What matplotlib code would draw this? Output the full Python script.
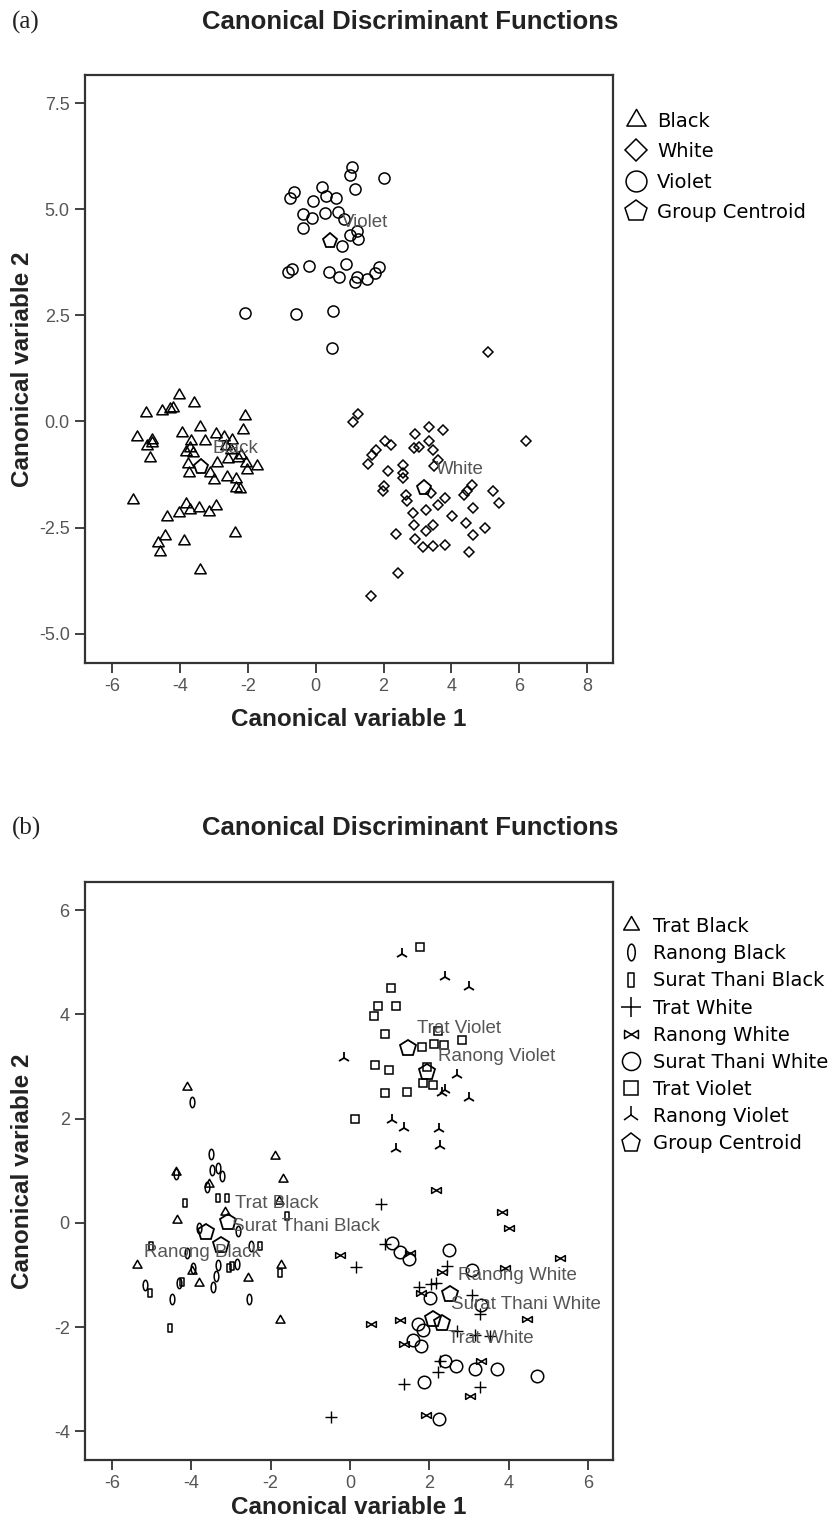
import numpy as np
import matplotlib.pyplot as plt
from matplotlib.path import Path
from matplotlib.lines import Line2D
from matplotlib.ticker import FormatStrFormatter
import matplotlib.transforms as mtrans

plt.rcParams['font.family'] = 'Liberation Sans'
plt.rcParams['axes.unicode_minus'] = False

# ---------------- panel (a) : colour groups ----------------
black_x = [-4.03, -3.60, -5.01, -4.53, -4.31, -4.21, -2.09, -2.15, -3.42, -3.94, -5.27, -4.82,
           -4.84, -4.98, -4.89, -3.67, -3.72, -3.84, -3.62, -3.26, -2.93, -2.70, -2.48, -2.65,
           -2.50, -2.20, -2.30, -2.60, -2.91, -3.77, -3.74, -3.13, -3.01, -2.62, -2.35, -2.35,
           -2.25, -2.07, -2.04, -1.73, -5.40, -3.82, -3.72, -3.44, -3.16, -2.93, -4.03, -4.39,
           -4.46, -4.66, -4.59, -3.89, -2.38, -3.42]
black_y = [0.63, 0.43, 0.20, 0.24, 0.29, 0.31, 0.13, -0.20, -0.12, -0.27, -0.37, -0.43,
           -0.51, -0.59, -0.86, -0.47, -0.63, -0.71, -0.75, -0.47, -0.29, -0.37, -0.43, -0.59,
           -0.67, -0.78, -0.86, -0.89, -0.98, -1.00, -1.22, -1.22, -1.37, -1.30, -1.36, -1.57,
           -1.59, -0.98, -1.14, -1.04, -1.84, -1.94, -2.08, -2.04, -2.14, -2.00, -2.16, -2.24,
           -2.69, -2.87, -3.08, -2.81, -2.63, -3.51]

white_x = [1.26, 1.09, 6.19, 2.05, 2.23, 1.79, 1.65, 1.55, 2.12, 2.58, 2.56, 2.58, 2.94, 3.34,
           3.75, 3.34, 2.89, 3.04, 3.45, 3.60, 3.50, 2.02, 1.97, 2.66, 2.70, 3.40, 3.82, 3.60,
           3.24, 2.87, 4.03, 4.36, 4.46, 4.62, 4.64, 5.23, 5.41, 4.43, 5.00, 4.64, 3.45, 3.24,
           2.91, 2.36, 2.94, 3.17, 3.45, 3.80, 4.51, 2.42, 1.63, 5.07]
white_y = [0.18, -0.02, -0.46, -0.46, -0.55, -0.67, -0.78, -1.00, -1.16, -1.02, -1.22, -1.33,
           -0.29, -0.12, -0.21, -0.47, -0.63, -0.60, -0.68, -0.90, -1.06, -1.53, -1.65, -1.73,
           -1.88, -1.69, -1.81, -1.96, -2.08, -2.16, -2.22, -1.73, -1.63, -1.49, -2.03, -1.65,
           -1.91, -2.39, -2.51, -2.67, -2.43, -2.57, -2.43, -2.65, -2.77, -2.96, -2.94, -2.90,
           -3.08, -3.57, -4.12, 1.63]

violet_x = [1.06, 1.02, 2.01, 1.16, -0.65, -0.75, 0.17, 0.29, 0.61, -0.09, -0.39, -0.11, 0.28,
            0.67, 0.83, -0.39, 1.21, 1.01, 1.26, 0.77, -0.82, -0.69, -0.21, 0.38, 0.69, 0.88,
            1.16, 1.22, 1.50, 1.75, 1.87, -2.09, -0.57, 0.51, 0.49]
violet_y = [6.00, 5.80, 5.74, 5.48, 5.41, 5.27, 5.53, 5.31, 5.27, 5.20, 4.88, 4.80, 4.91, 4.94,
            4.77, 4.55, 4.49, 4.38, 4.30, 4.14, 3.52, 3.58, 3.67, 3.53, 3.40, 3.71, 3.28, 3.40,
            3.36, 3.50, 3.63, 2.56, 2.54, 2.60, 1.74]

cent_a_names = ['Black', 'White', 'Violet']
cent_a_x = [-3.40, 3.19, 0.43]
cent_a_y = [-1.08, -1.57, 4.24]

# ---------------- panel (b) : province x colour groups ----------------
tb_x = [-4.12, -1.89, -1.69, -4.36, -3.16, -1.78, -5.36, -3.80, -2.58, -1.74, -1.76, -3.99, -4.38, -3.56]
tb_y = [2.61, 1.29, 0.84, 0.06, 0.21, 0.41, -0.81, -1.15, -1.06, -0.81, -1.87, -0.92, 0.98, 0.74]

rb_x = [-3.51, -3.47, -3.32, -3.23, -4.38, -3.60, -3.80, -2.82, -2.84, -3.32, -3.39, -3.45,
        -3.97, -4.32, -5.18, -4.49, -2.54, -4.12, -2.50, -3.99]
rb_y = [1.32, 1.01, 1.06, 0.90, 0.93, 0.69, -0.10, -0.15, -0.79, -0.81, -1.02, -1.23,
        -0.86, -1.15, -1.20, -1.47, -1.47, -0.58, -0.44, 2.32]

sb_x = [-4.16, -3.32, -3.10, -1.59, -5.01, -5.05, -4.23, -3.06, -2.97, -2.28, -1.76, -4.53]
sb_y = [0.39, 0.48, 0.48, 0.13, -0.44, -1.35, -1.14, -0.86, -0.83, -0.44, -0.97, -2.02]

tw_x = [0.77, 0.15, 0.88, 2.44, 1.75, 2.05, 2.18, 3.08, 3.27, 2.70, 3.14, 3.53, 2.27, 2.23, 1.36, 3.27, -0.48]
tw_y = [0.37, -0.85, -0.41, -0.83, -1.23, -1.18, -1.15, -1.39, -1.74, -2.08, -2.15, -2.18, -2.66, -2.86, -3.10, -3.15, -3.72]

rw_x = [2.18, 3.83, 4.00, -0.24, 1.52, 5.30, 3.92, 2.31, 1.78, 4.46, 1.26, 0.54, 1.36, 3.31, 3.02, 1.92]
rw_y = [0.63, 0.21, -0.10, -0.61, -0.57, -0.68, -0.87, -0.95, -1.34, -1.85, -1.87, -1.95, -2.32, -2.65, -3.33, -3.68]

sw_x = [1.06, 1.27, 1.49, 2.50, 3.08, 2.01, 3.31, 1.71, 1.84, 1.60, 1.78, 2.40, 2.66, 3.16, 3.70, 4.71, 1.86, 2.25]
sw_y = [-0.39, -0.55, -0.70, -0.52, -0.90, -1.44, -1.57, -1.95, -2.05, -2.25, -2.36, -2.66, -2.75, -2.80, -2.80, -2.94, -3.05, -3.76]

tv_x = [1.76, 1.04, 0.71, 1.15, 0.60, 0.88, 2.83, 1.81, 2.12, 2.36, 2.23, 0.62, 0.98, 1.95, 1.84, 2.10, 0.88, 1.43, 0.12]
tv_y = [5.30, 4.51, 4.17, 4.17, 3.96, 3.62, 3.50, 3.38, 3.44, 3.42, 3.68, 3.02, 2.93, 3.00, 2.68, 2.65, 2.50, 2.52, 2.00]

rv_x = [1.32, 2.40, 2.99, -0.16, 2.71, 2.31, 2.40, 2.99, 1.06, 1.36, 2.25, 1.17, 2.27]
rv_y = [5.16, 4.71, 4.52, 3.17, 2.83, 2.49, 2.55, 2.39, 1.97, 1.82, 1.81, 1.42, 1.47]

cent_b_names = ['Trat Black', 'Ranong Black', 'Surat Thani Black', 'Trat White', 'Ranong White',
                'Surat Thani White', 'Trat Violet', 'Ranong Violet']
cent_b_x = [-3.08, -3.62, -3.25, 2.10, 2.53, 2.33, 1.46, 1.95]
cent_b_y = [0.01, -0.17, -0.43, -1.85, -1.37, -1.92, 3.35, 2.89]
# label offsets (pixels) of the group-centroid captions
lab_b_dx = [7, -62, 11, 15, 8, 9, 9, 11]
lab_b_dy = [19, -21, 19, -19, 19, 18, 20, 16]

# ---------------- custom marker shapes ----------------
tri = Path([(-1, -0.5774), (1, -0.5774), (0, 1.1547), (-1, -0.5774)],
           [Path.MOVETO, Path.LINETO, Path.LINETO, Path.CLOSEPOLY])
ellipse = Path.unit_circle().transformed(mtrans.Affine2D().scale(0.45, 1.0))
thinrect = Path([(-0.5, -1), (0.5, -1), (0.5, 1), (-0.5, 1), (-0.5, -1)],
                [Path.MOVETO, Path.LINETO, Path.LINETO, Path.LINETO, Path.CLOSEPOLY])
bowtie = Path([(-1, 0.6), (1, -0.6), (1, 0.6), (-1, -0.6), (-1, 0.6)],
              [Path.MOVETO, Path.LINETO, Path.LINETO, Path.LINETO, Path.CLOSEPOLY])

W, H = 839, 1525
fig = plt.figure(figsize=(W / 100, H / 100), dpi=100)


def box(l, t, r, b):
    return [l / W, 1 - b / H, (r - l) / W, (b - t) / H]


def style_axes(ax):
    for s in ax.spines.values():
        s.set_linewidth(1.6)
        s.set_color('#333333')
    ax.tick_params(direction='out', length=7, width=1.3, color='#333333',
                   labelsize=13, labelcolor='#555555', pad=4)
    ax.set_xlabel('Canonical variable 1', fontsize=17.5, fontweight='bold', color='#222222')
    ax.set_ylabel('Canonical variable 2', fontsize=17.5, fontweight='bold', color='#222222')


def pts(ax, x, y, marker, ms, mew=1.1):
    ax.plot(x, y, linestyle='none', marker=marker, ms=ms, mfc='none', mec='black', mew=mew)


# ================= panel (a) =================
ax1 = fig.add_axes(box(85, 75, 613, 663))
pts(ax1, black_x, black_y, tri, 9.5)
pts(ax1, white_x, white_y, 'D', 5.3)
pts(ax1, violet_x, violet_y, 'o', 8)
pts(ax1, cent_a_x, cent_a_y, 'p', 11, 1.3)
for n, cx, cy in zip(cent_a_names, cent_a_x, cent_a_y):
    ax1.annotate(n, (cx, cy), xytext=(12, 19), textcoords='offset pixels',
                 ha='left', va='center', fontsize=13.5, color='#555555')
ax1.set_xlim(-6.81, 8.77)
ax1.set_ylim(-5.69, 8.16)
ax1.set_xticks(np.arange(-6, 9, 2))
ax1.set_yticks([-5, -2.5, 0, 2.5, 5, 7.5])
ax1.yaxis.set_major_formatter(FormatStrFormatter('%.1f'))
style_axes(ax1)
ax1.xaxis.set_label_coords(0.5, -0.077)
ax1.yaxis.set_label_coords(-0.097, 0.5)

leg_a = [Line2D([], [], ls='none', marker=tri, ms=16, mfc='none', mec='black', mew=1.1),
         Line2D([], [], ls='none', marker='D', ms=11.5, mfc='none', mec='black', mew=1.1),
         Line2D([], [], ls='none', marker='o', ms=15, mfc='none', mec='black', mew=1.1),
         Line2D([], [], ls='none', marker='p', ms=16, mfc='none', mec='black', mew=1.1)]
ax1.legend(leg_a, ['Black', 'White', 'Violet', 'Group Centroid'], loc='upper left',
           bbox_to_anchor=(626 / W, 1 - 112 / H), bbox_transform=fig.transFigure,
           frameon=False, borderpad=0, borderaxespad=0, handlelength=1.05,
           handletextpad=0.55, labelspacing=0.58, prop={'family': 'DejaVu Sans', 'size': 14})

# ================= panel (b) =================
ax2 = fig.add_axes(box(85, 882, 613, 1460))
pts(ax2, tb_x, tb_y, tri, 7.5)
pts(ax2, rb_x, rb_y, ellipse, 7.5)
pts(ax2, sb_x, sb_y, thinrect, 5.5)
pts(ax2, tw_x, tw_y, '+', 9, 1.0)
pts(ax2, rw_x, rw_y, bowtie, 7)
pts(ax2, sw_x, sw_y, 'o', 9)
pts(ax2, tv_x, tv_y, 's', 6)
pts(ax2, rv_x, rv_y, '2', 9, 1.3)
pts(ax2, cent_b_x, cent_b_y, 'p', 12, 1.3)
for n, cx, cy, dx, dy in zip(cent_b_names, cent_b_x, cent_b_y, lab_b_dx, lab_b_dy):
    ax2.annotate(n, (cx, cy), xytext=(dx, dy), textcoords='offset pixels',
                 ha='left', va='center', fontsize=13.5, color='#555555')
ax2.set_xlim(-6.68, 6.63)
ax2.set_ylim(-4.55, 6.54)
ax2.set_xticks(np.arange(-6, 7, 2))
ax2.set_yticks(np.arange(-4, 7, 2))
style_axes(ax2)
ax2.xaxis.set_label_coords(0.5, -0.062)
ax2.yaxis.set_label_coords(-0.097, 0.5)

leg_b = [Line2D([], [], ls='none', marker=m, ms=s, mfc='none', mec='black', mew=1.1)
         for m, s in [(tri, 13), (ellipse, 12), (thinrect, 9.5), ('+', 14), (bowtie, 10),
                      ('o', 13), ('s', 9.5), ('2', 13), ('p', 14)]]
ax2.legend(leg_b, ['Trat Black', 'Ranong Black', 'Surat Thani Black', 'Trat White',
                   'Ranong White', 'Surat Thani White', 'Trat Violet', 'Ranong Violet',
                   'Group Centroid'], loc='upper left',
           bbox_to_anchor=(621 / W, 1 - 917 / H), bbox_transform=fig.transFigure,
           frameon=False, borderpad=0, borderaxespad=0, handlelength=1.05,
           handletextpad=0.6, labelspacing=0.42, prop={'family': 'DejaVu Sans', 'size': 14})

# ================= titles =================
for ytop, tag in [(22, '(a)'), (828, '(b)')]:
    fig.text(12 / W, 1 - ytop / H, tag, family='Liberation Serif', fontsize=18,
             ha='left', va='center', color='#222222')
    fig.text(410 / W, 1 - ytop / H, 'Canonical Discriminant Functions', fontsize=18.5,
             fontweight='bold', ha='center', va='center', color='#222222')

fig.savefig('out.png', dpi=100)
